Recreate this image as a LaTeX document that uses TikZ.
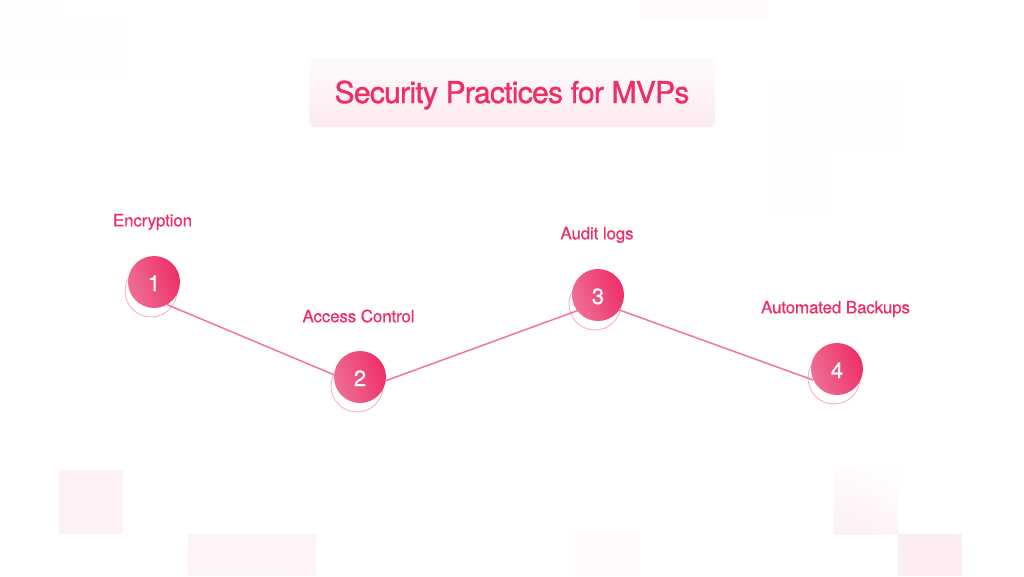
\documentclass[tikz,border=0pt]{standalone}
\usepackage{fontspec}
\setmainfont{TeX Gyre Heros}
\newfontfamily\titlefont[LetterSpace=-2.4,FakeBold=1.2]{TeX Gyre Heros}
\newfontfamily\labelfont[LetterSpace=-1,FakeBold=0.6]{TeX Gyre Heros}
\usetikzlibrary{positioning,backgrounds}
\definecolor{secpink}{HTML}{EE2F66}
\definecolor{seclight}{HTML}{EE6F94}
\definecolor{secline}{HTML}{F4739A}
\definecolor{secring}{HTML}{F6A9C0}
\tikzset{
numdot/.style={circle,minimum size=52pt,inner sep=0pt,left color=seclight,right color=secpink,
  shading angle=110,text=white,text height=18pt,text depth=0pt,font=\labelfont\fontsize{22}{22}\selectfont},
ringdot/.style={circle,minimum size=52pt,inner sep=0pt,draw=secring,line width=0.8pt},
steplabel/.style={text=secpink,font=\labelfont\fontsize{17}{17}\selectfont},
stepline/.style={draw=secline,line width=1.5pt},
titlebox/.style={rectangle,rounded corners=6pt,minimum width=406pt,minimum height=68pt,
  top color=secpink!2,bottom color=secpink!10,draw=secpink!5,line width=0.5pt,
  text=secpink,text height=22pt,text depth=2pt,font=\titlefont\fontsize{30}{30}\selectfont},
}
\begin{document}
\begin{tikzpicture}[x=1pt,y=-1pt,on grid]
\useasboundingbox (0,0) rectangle (1024,576);
% faint squares
\fill[secpink!7] (59,470) rectangle (123,534);
\fill[secpink!6] (188,534) rectangle (316,576);
\fill[secpink!2] (575,534) rectangle (639,576);
\shade[top color=secpink!1,bottom color=secpink!7,shading angle=-25] (834,470) rectangle (898,534);
\fill[secpink!9] (898,534) rectangle (962,576);
\fill[secpink!2] (640,0) rectangle (768,18);
\fill[secpink!0.5] (768,83) rectangle (897,146);
\fill[secpink!0.5] (768,146) rectangle (832,210);
\fill[secpink!0.5] (0,0) rectangle (58,20);
\fill[secpink!0.5] (0,20) rectangle (125,80);
\node [titlebox] (title) at (512,93) {Security Practices for MVPs};
\node [numdot] (c1) at (154,282) {1};
\node [numdot, below right=95pt and 206pt of c1] (c2) {2};
\node [numdot, above right=82pt and 238pt of c2] (c3) {3};
\node [numdot, below right=74pt and 239pt of c3] (c4) {4};
\node [steplabel, above left=60pt and 1.5pt of c1] (l1) {Encryption};
\node [steplabel, above left=61pt and 1.5pt of c2] (l2) {Access Control};
\node [steplabel, above left=60pt and 1pt of c3] (l3) {Audit logs};
\node [steplabel, above left=60pt and 1.5pt of c4] (l4) {Automated Backups};
\begin{scope}[on background layer]
\foreach \i in {1,...,4}
  \node [ringdot, below left=9pt and 3pt of c\i] (r\i) {};
\end{scope}
\draw [stepline] (c1.-60)--(c2.175);
\draw [stepline] (c2.-8)--(c3.217);
\draw [stepline] (c3.-35)--(c4.205);
\end{tikzpicture}
\end{document}
